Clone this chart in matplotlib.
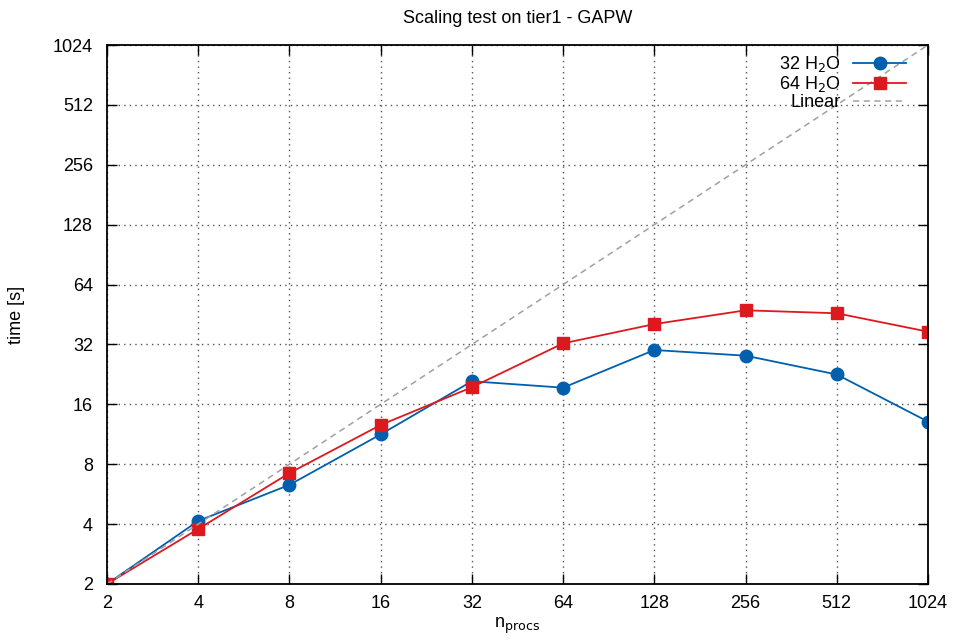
import matplotlib
matplotlib.use("Agg")
import matplotlib.pyplot as plt
from matplotlib.ticker import FixedLocator, FixedFormatter, NullLocator

plt.rcParams['font.family'] = ['Liberation Sans', 'DejaVu Sans']

nprocs = [2, 4, 8, 16, 32, 64, 128, 256, 512, 1024]
t32 = [2.0, 4.15, 6.3, 11.3, 20.9, 19.4, 30.0, 28.1, 22.6, 13.1]
t64 = [2.0, 3.78, 7.22, 12.6, 19.5, 32.4, 40.5, 47.5, 45.9, 37.1]
linear = [2, 1024]
ticks = [2, 4, 8, 16, 32, 64, 128, 256, 512, 1024]
tick_labels = [str(t) for t in ticks]

fig = plt.figure(figsize=(9.54, 6.43), dpi=100)
ax = fig.add_axes([107/954, 1-584/643, (928-107)/954, (584-45)/643])

ax.plot(nprocs, t32, color='#0060ad', lw=1.3, marker='o', ms=9, label='32 H$_2$O')
ax.plot(nprocs, t64, color='#dd181f', lw=1.3, marker='s', ms=9, label='64 H$_2$O')
ax.plot(linear, linear, color='#a0a0a0', lw=1.1, ls=(0, (4, 3)), label='Linear')

ax.set_xscale('log', base=2)
ax.set_yscale('log', base=2)
ax.set_xlim(2, 1024)
ax.set_ylim(2, 1024)
for axis in (ax.xaxis, ax.yaxis):
    axis.set_major_locator(FixedLocator(ticks))
    axis.set_major_formatter(FixedFormatter(tick_labels))
    axis.set_minor_locator(NullLocator())

ax.grid(True, color='#555555', ls=(0, (1, 3)), lw=1.0)
ax.tick_params(direction='in', length=7, width=1, top=True, right=True,
               labelsize=13)
ax.tick_params(axis='x', pad=8)
ax.tick_params(axis='y', pad=10)
for s in ax.spines.values():
    s.set_linewidth(1.3)

ax.set_title('Scaling test on tier1 - GAPW', fontsize=13, pad=16)
ax.set_xlabel('n$_{\\rm procs}$', fontsize=13, labelpad=3)
ax.set_ylabel('time [s]', fontsize=13, labelpad=20)

leg = ax.legend(loc='upper right', bbox_to_anchor=(0.973, 0.983),
                markerfirst=False, frameon=False, fontsize=13,
                handlelength=2.9, borderaxespad=0, borderpad=0,
                labelspacing=0.0, handletextpad=0.72)
for t in leg.get_texts():
    t.set_ha('right')

fig.savefig('out.png', dpi=100)
